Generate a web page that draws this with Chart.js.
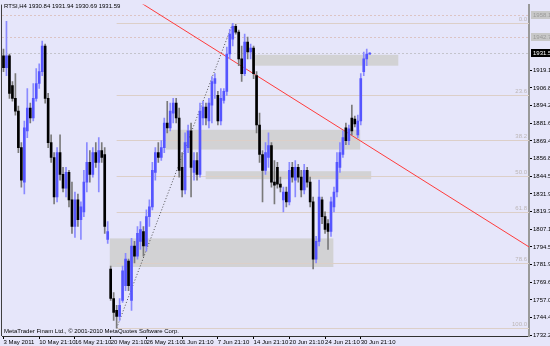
<!DOCTYPE html>
<html>
<head>
<meta charset="utf-8">
<script src="https://cdn.jsdelivr.net/npm/chart.js@4"></script>
<style>
  html, body { margin: 0; padding: 0; background: #e6e6fa; }
  #wrap { width: 550px; height: 346px; position: relative; }
</style>
</head>
<body>
<div id="wrap"><canvas id="rts"></canvas></div>
<script>
// RTSI H4, 3 May - 30 Jun 2011
const opens = [1929.5,1921.2,1929.5,1908.6,1899.5,1890.5,1864.7,1840.3,1876.5,1892.6,
  1885.6,1899.5,1910.0,1918.4,1936.5,1899.5,1868.2,1857.7,1829.8,1861.2,
  1845.8,1836.1,1847.2,1827.7,1808.9,1827.7,1813.8,1819.3,1840.3,1854.2,
  1845.8,1861.2,1854.2,1862.6,1859.8,1799.8,1778.9,1758.0,1749.6,1745.4,
  1756.6,1767.0,1784.5,1756.6,1795.1,1788.0,1798.4,1805.4,1795.1,1815.9,
  1822.8,1847.2,1861.2,1857.7,1864.7,1882.1,1878.6,1889.1,1896.1,1885.6,
  1850.7,1834.7,1864.7,1876.5,1847.2,1855.6,1845.8,1885.6,1893.3,1883.5,
  1894.7,1910.0,1901.6,1883.5,1898.1,1904.4,1930.9,1941.4,1950.5,1946.3,
  1927.4,1917.0,1939.3,1932.3,1935.1,1915.6,1880.7,1859.8,1848.6,1857.7,
  1866.1,1840.3,1850.7,1838.9,1827.7,1833.3,1826.3,1850.7,1841.7,1850.7,
  1843.8,1834.7,1848.6,1840.3,1826.3,1785.9,1798.4,1827.7,1815.9,1811.0,
  1805.4,1822.8,1833.3,1850.7,1859.8,1878.6,1869.6,1885.6,1884.9,1873.7,
  1883.5,1918.4,1927.4,1930.84];
const highs = [1934.4,1953.9,1930.9,1911.4,1917.0,1894.0,1868.2,1883.5,1906.5,1896.1,
  1910.0,1920.5,1924.0,1940.0,1937.9,1903.0,1873.7,1861.2,1864.7,1873.7,
  1850.7,1850.7,1848.6,1840.3,1833.3,1831.9,1826.3,1848.6,1868.2,1862.6,
  1864.7,1868.2,1871.7,1868.2,1864.7,1812.4,1781.0,1762.2,1753.1,1758.0,
  1781.0,1790.0,1785.9,1800.5,1798.4,1808.9,1812.4,1808.9,1820.7,1827.7,
  1854.2,1864.7,1868.2,1869.6,1885.6,1897.5,1896.1,1899.5,1899.5,1892.6,
  1861.2,1875.1,1880.7,1882.1,1861.2,1861.2,1896.1,1897.5,1896.1,1899.5,
  1914.9,1917.0,1904.4,1906.5,1906.5,1935.8,1948.4,1952.6,1951.9,1947.7,
  1936.5,1944.9,1942.8,1937.9,1936.5,1918.4,1889.1,1862.6,1868.2,1875.1,
  1868.2,1855.6,1854.2,1843.8,1836.8,1836.8,1854.2,1854.2,1855.6,1852.8,
  1848.6,1852.8,1850.7,1843.8,1829.8,1801.9,1841.7,1829.8,1819.3,1813.8,
  1829.8,1836.8,1861.2,1868.2,1876.5,1882.1,1880.7,1894.7,1887.0,1887.7,
  1917.0,1932.3,1934.4,1931.94];
const lows = [1918.4,1915.6,1899.5,1897.5,1887.7,1861.2,1836.8,1831.9,1871.7,1882.1,
  1883.5,1897.5,1906.5,1915.6,1896.1,1864.7,1854.2,1824.9,1826.3,1841.7,
  1833.3,1829.8,1822.8,1804.0,1801.2,1808.9,1799.8,1815.9,1833.3,1840.3,
  1843.8,1850.7,1833.3,1854.2,1804.0,1797.0,1756.6,1742.6,1737.1,1742.6,
  1755.2,1763.6,1763.6,1749.6,1783.1,1785.9,1792.8,1788.0,1791.4,1808.9,
  1820.7,1841.7,1854.2,1855.6,1861.2,1875.1,1876.5,1882.1,1882.1,1843.8,
  1829.8,1831.9,1861.2,1829.8,1841.7,1841.7,1843.8,1880.7,1880.7,1878.6,
  1882.1,1899.5,1880.7,1880.7,1896.1,1901.6,1927.4,1936.5,1944.9,1922.6,
  1911.4,1915.6,1927.4,1927.4,1913.5,1875.1,1854.2,1826.3,1845.8,1850.7,
  1836.8,1824.9,1836.1,1833.3,1819.3,1822.8,1824.2,1840.3,1829.8,1840.3,
  1829.8,1831.9,1836.8,1822.8,1778.9,1783.1,1795.1,1811.0,1804.0,1792.8,
  1801.9,1819.3,1829.8,1847.2,1857.7,1866.8,1866.8,1873.7,1879.3,1871.7,
  1880.7,1915.6,1922.6,1930.69];
const closes = [1921.2,1929.5,1903.0,1899.5,1890.5,1864.7,1841.7,1878.6,1892.6,1885.6,
  1899.5,1910.0,1918.4,1936.5,1899.5,1868.2,1857.7,1829.8,1861.2,1845.8,
  1836.1,1847.2,1827.7,1808.9,1827.7,1813.8,1822.8,1840.3,1854.2,1845.8,
  1861.2,1854.2,1862.6,1857.7,1808.9,1805.4,1758.0,1748.2,1745.4,1753.1,
  1777.5,1785.9,1767.0,1795.1,1788.0,1804.0,1806.8,1795.1,1815.9,1822.8,
  1848.6,1861.2,1857.7,1864.7,1882.1,1878.6,1890.5,1896.1,1885.6,1848.6,
  1834.7,1868.2,1876.5,1850.7,1855.6,1845.8,1890.5,1893.3,1885.6,1896.1,
  1911.4,1913.5,1883.5,1899.5,1904.4,1930.9,1944.9,1950.5,1946.3,1927.4,
  1917.0,1939.3,1932.3,1935.1,1917.0,1880.7,1859.8,1848.6,1861.2,1866.1,
  1840.3,1838.2,1838.9,1836.8,1833.3,1826.3,1848.6,1843.8,1850.7,1843.8,
  1834.7,1848.6,1840.3,1826.3,1785.9,1798.4,1829.8,1815.9,1806.8,1805.4,
  1826.3,1833.3,1854.2,1861.2,1871.7,1869.6,1877.9,1876.5,1881.4,1883.5,
  1913.5,1927.4,1930.9,1931.59];

const xTickLabels = ['3 May 2011', '10 May 21:10', '16 May 21:10', '20 May 21:10', '26 May 21:10',
  '1 Jun 21:10', '7 Jun 21:10', '14 Jun 21:10', '20 Jun 21:10', '24 Jun 21:10', '30 Jun 21:10'];
const barsPerTick = 12;
const yTickValues = [1732.20, 1744.45, 1757.05, 1769.65, 1781.90, 1794.50, 1807.10, 1819.35,
  1831.95, 1844.55, 1856.80, 1869.40, 1881.65, 1894.25, 1906.85, 1919.10];

// fibo between the 20 May low and the 7 Jun high
const fibLevels = [0.0, 23.6, 38.2, 50.0, 61.8, 78.6, 100.0];
const fibHigh = 1952.6, fibLow = 1737.1, fibLowBar = 38, fibHighBar = 77;
// gray zones: [fromBar, toBar, top, bottom]
const zones = [
  [83.6, 132.6, 1930.3, 1922.6],
  [54.5, 119.8, 1877.3, 1863.3],
  [67.9, 123.5, 1848.0, 1842.4],
  [35.7, 110.8, 1800.5, 1780.3]
];
const trendLine = [[47.1, 1965.8], [176.5, 1794.5]];
const priceLines = [1958.13, 1942.79];
const bidPrice = 1931.59;
const title = 'RTSI,H4 1930.84 1931.94 1930.69 1931.59';

const FONT = "6px 'Liberation Sans', sans-serif";
const bull = i => closes[i] >= opens[i];
const idx = closes.map((c, i) => i);

const overlays = {
  id: 'overlays',
  beforeDraw(chart) {
    const ctx = chart.ctx;
    ctx.save();
    ctx.fillStyle = '#e6e6fa';
    ctx.fillRect(0, 0, chart.width, chart.height);
    ctx.restore();
  },
  beforeDatasetsDraw(chart) {
    const {ctx, chartArea: a} = chart;
    const xs = chart.scales.x, ys = chart.scales.y;
    ctx.save();
    ctx.beginPath();
    ctx.rect(a.left, a.top, a.right - a.left, a.bottom - a.top);
    ctx.clip();

    ctx.fillStyle = '#d2d2d4';
    zones.forEach(z => {
      const x1 = xs.getPixelForValue(z[0]), x2 = xs.getPixelForValue(z[1]);
      const y1 = ys.getPixelForValue(z[2]), y2 = ys.getPixelForValue(z[3]);
      ctx.fillRect(x1, y1, x2 - x1, y2 - y1);
    });

    // horizontal price lines
    ctx.lineWidth = 1;
    ctx.setLineDash([2, 2]);
    ctx.strokeStyle = '#dcc4c4';
    priceLines.forEach(p => {
      const y = Math.round(ys.getPixelForValue(p)) + 0.5;
      ctx.beginPath(); ctx.moveTo(a.left, y); ctx.lineTo(a.right, y); ctx.stroke();
    });
    ctx.strokeStyle = '#c4c4cc';
    const by = Math.round(ys.getPixelForValue(bidPrice)) + 0.5;
    ctx.beginPath(); ctx.moveTo(a.left, by); ctx.lineTo(a.right, by); ctx.stroke();
    ctx.setLineDash([]);

    // fibo levels
    ctx.strokeStyle = '#dccfc8';
    ctx.fillStyle = '#bcb6b6';
    ctx.font = FONT;
    ctx.textAlign = 'right';
    ctx.textBaseline = 'bottom';
    const fx = xs.getPixelForValue(fibLowBar);
    fibLevels.forEach(l => {
      const p = fibHigh - (fibHigh - fibLow) * l / 100;
      const y = Math.round(ys.getPixelForValue(p)) + 0.5;
      ctx.beginPath(); ctx.moveTo(fx, y); ctx.lineTo(a.right, y); ctx.stroke();
      ctx.fillText(l.toFixed(1), a.right - 2, y - 1);
    });

    // fibo base line
    ctx.strokeStyle = '#505050';
    ctx.setLineDash([1, 2]);
    ctx.beginPath();
    ctx.moveTo(xs.getPixelForValue(fibLowBar), ys.getPixelForValue(fibLow));
    ctx.lineTo(xs.getPixelForValue(fibHighBar), ys.getPixelForValue(fibHigh));
    ctx.stroke();
    ctx.setLineDash([]);

    // red trend line, extended both ways
    const x1 = xs.getPixelForValue(trendLine[0][0]), y1 = ys.getPixelForValue(trendLine[0][1]);
    const x2 = xs.getPixelForValue(trendLine[1][0]), y2 = ys.getPixelForValue(trendLine[1][1]);
    const k = (y2 - y1) / (x2 - x1);
    ctx.strokeStyle = '#ff3b3b';
    ctx.beginPath();
    ctx.moveTo(a.left, y1 + k * (a.left - x1));
    ctx.lineTo(a.right, y1 + k * (a.right - x1));
    ctx.stroke();
    ctx.restore();
  },
  afterDraw(chart) {
    const {ctx, chartArea: a} = chart;
    const ys = chart.scales.y;
    ctx.save();
    // left border
    ctx.strokeStyle = '#404040';
    ctx.lineWidth = 1;
    ctx.beginPath(); ctx.moveTo(a.left - 0.5, a.top); ctx.lineTo(a.left - 0.5, a.bottom); ctx.stroke();

    ctx.font = FONT;
    ctx.textBaseline = 'middle';
    ctx.textAlign = 'left';
    ctx.fillStyle = '#000';
    ctx.fillText(title, a.left + 2, 6);
    ctx.fillText('MetaTrader Finam Ltd., \u00a9 2001-2010 MetaQuotes Software Corp.', a.left + 2, a.bottom - 5);

    // price tags on the axis
    priceLines.forEach(p => {
      const y = Math.round(ys.getPixelForValue(p));
      ctx.fillStyle = '#c8c8c8';
      ctx.fillRect(a.right + 2, y - 4, 30, 8);
      ctx.fillStyle = '#9a9a9a';
      ctx.fillText(p.toFixed(2), a.right + 4, y);
    });
    const y = Math.round(ys.getPixelForValue(bidPrice));
    ctx.fillStyle = '#000';
    ctx.fillRect(a.right + 2, y - 4, 30, 8);
    ctx.fillStyle = '#fff';
    ctx.fillText(bidPrice.toFixed(2), a.right + 4, y);
    ctx.restore();
  }
};

new Chart(document.getElementById('rts'), {
  type: 'bar',
  data: {
    datasets: [
      {
        label: 'body',
        data: idx.map(i => ({x: i, y: [opens[i], closes[i]]})),
        backgroundColor: idx.map(i => bull(i) ? '#5555ff' : '#000000'),
        barThickness: 2,
        minBarLength: 1,
        grouped: false,
        order: 1
      },
      {
        label: 'wick',
        data: idx.map(i => ({x: i, y: [lows[i], highs[i]]})),
        backgroundColor: idx.map(i => bull(i) ? '#8a8aff' : '#7a7a7a'),
        barThickness: 1,
        grouped: false,
        order: 2
      }
    ]
  },
  options: {
    responsive: true,
    maintainAspectRatio: false,
    animation: false,
    events: [],
    layout: { padding: { left: 2, top: 0, right: 0, bottom: 0 } },
    plugins: { legend: { display: false }, tooltip: { enabled: false } },
    scales: {
      x: {
        type: 'linear',
        min: -0.5,
        max: 176.5,
        offset: false,
        grid: { display: true, drawOnChartArea: false, drawTicks: true, tickLength: 3, color: '#000', offset: false },
        border: { display: true, color: '#303030', width: 1 },
        afterBuildTicks: s => { s.ticks = xTickLabels.map((t, i) => ({value: i * barsPerTick})); },
        afterFit: s => { s.height = 10; },
        ticks: {
          autoSkip: false, maxRotation: 0, align: 'start', padding: 0,
          color: '#000', font: { family: "'Liberation Sans', sans-serif", size: 6 },
          callback: (v, i) => xTickLabels[i]
        }
      },
      y: {
        position: 'right',
        min: 1731.5,
        max: 1965.8,
        grid: { display: true, drawOnChartArea: false, drawTicks: true, tickLength: 3, color: '#000' },
        border: { display: true, color: '#999999', width: 2 },
        afterBuildTicks: s => { s.ticks = yTickValues.map(v => ({value: v})); },
        afterFit: s => { s.width = 21; },
        ticks: {
          padding: 1, color: '#000',
          font: { family: "'Liberation Sans', sans-serif", size: 6 },
          callback: v => v.toFixed(2)
        }
      }
    }
  },
  plugins: [overlays]
});
</script>
</body>
</html>
